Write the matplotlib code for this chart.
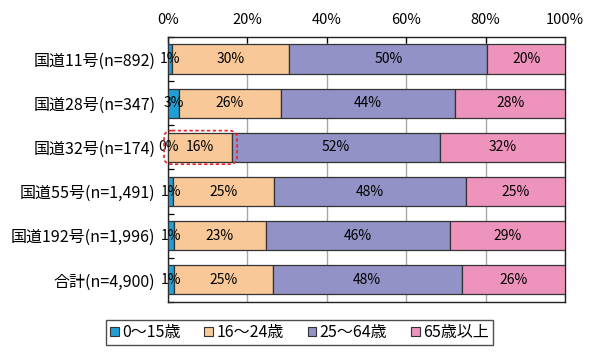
import matplotlib
matplotlib.use("Agg")
import matplotlib.pyplot as plt
from matplotlib.patches import FancyBboxPatch, Patch
import numpy as np

plt.rcParams['font.family'] = ['Noto Sans CJK JP', 'DejaVu Sans']

# data (share of respondents, %)
routes = ["国道11号(n=892)", "国道28号(n=347)", "国道32号(n=174)",
          "国道55号(n=1,491)", "国道192号(n=1,996)", "合計(n=4,900)"]
age_groups = ["0～15歳", "16～24歳", "25～64歳", "65歳以上"]
age_0_15 = [1.0, 2.8, 0.0, 1.3, 1.4, 1.4]
age_16_24 = [29.6, 25.6, 16.2, 25.4, 23.3, 25.0]
age_25_64 = [49.8, 44.0, 52.2, 48.3, 46.3, 47.6]
age_65_up = [19.6, 27.6, 31.6, 25.0, 29.0, 26.0]
colors = ["#1f9fd6", "#f8c898", "#9292c6", "#ee94bc"]
highlight_row = 2

series = [age_0_15, age_16_24, age_25_64, age_65_up]

fig = plt.figure(figsize=(6, 3.56), dpi=100)
ax = fig.add_axes([0.28, 0.1517, 0.6617, 0.7444])

y = np.arange(len(routes))
left = np.zeros(len(routes))
for vals, col in zip(series, colors):
    vals = np.array(vals)
    ax.barh(y, vals, left=left, height=0.66, color=col,
            edgecolor="#333333", linewidth=0.9, zorder=3)
    for yi, l, v in zip(y, left, vals):
        ax.text(l + v / 2, yi, f"{v:.0f}%", ha="center", va="center",
                fontsize=10, zorder=4)
    left += vals

ax.set_xlim(0, 100)
ax.set_ylim(len(routes) - 0.5, -0.5)
ax.xaxis.tick_top()
ax.set_xticks(np.arange(0, 101, 20))
ax.set_xticklabels([f"{t}%" for t in range(0, 101, 20)])
ax.tick_params(axis="x", direction="in", length=4.5, width=0.9,
               labelsize=10.5, pad=7)
ax.set_yticks(y)
ax.set_yticklabels(routes)
ax.set_yticks(np.arange(len(routes) + 1) - 0.5, minor=True)
ax.tick_params(axis="y", which="major", length=0, labelsize=11.5, pad=9)
ax.tick_params(axis="y", which="minor", direction="in", length=4, width=0.9)
ax.grid(axis="x", color="#a8a8a8", linewidth=1, zorder=0)
for s in ax.spines.values():
    s.set_linewidth(1)
    s.set_color("#222222")

# red dashed box around the highlighted row
x1 = age_0_15[highlight_row] + age_16_24[highlight_row]
box = FancyBboxPatch((-1.0, highlight_row - 0.38), x1 + 2.2, 0.76,
                     boxstyle="round,pad=0,rounding_size=2",
                     mutation_aspect=0.08,
                     fill=False, edgecolor="#e8202a", linestyle=(0, (2, 1.5)),
                     linewidth=1.2, clip_on=False, zorder=5)
ax.add_patch(box)

handles = [Patch(facecolor=c, edgecolor="#333333", linewidth=0.8) for c in colors]
leg = fig.legend(handles, age_groups, loc="center", bbox_to_anchor=(0.499, 0.066),
                 ncol=4, fontsize=11.5, frameon=True, fancybox=False,
                 handlelength=0.55, handleheight=0.55, handletextpad=0.2,
                 columnspacing=1.5, borderpad=0.25)
leg.get_frame().set_edgecolor("#222222")
leg.get_frame().set_linewidth(1)

fig.savefig("out.png", dpi=100)
